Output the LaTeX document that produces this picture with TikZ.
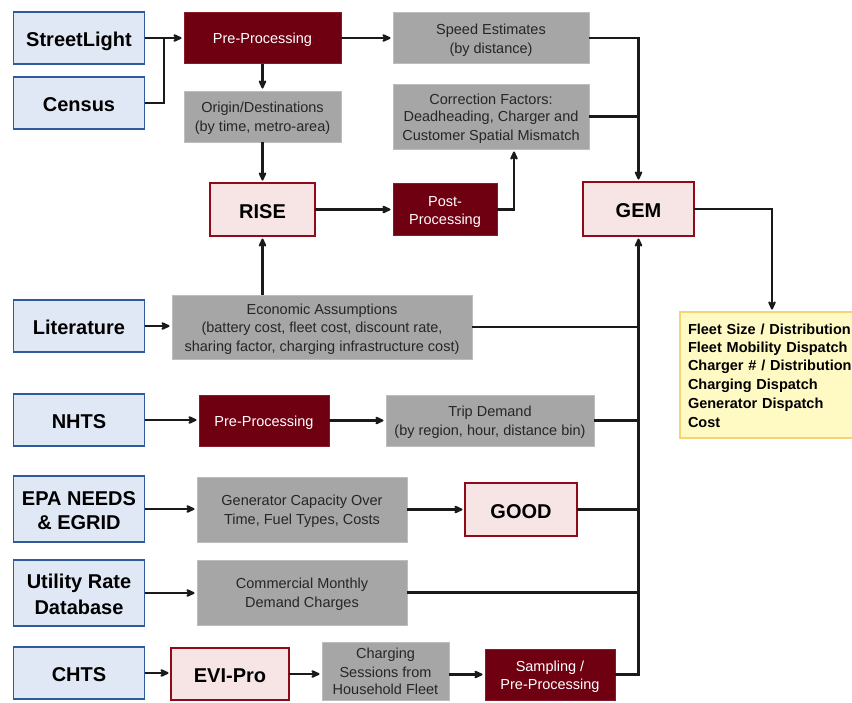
\documentclass[tikz,border=0pt]{standalone}
\usepackage{fontspec}
\setmainfont{Liberation Sans}
\usetikzlibrary{arrows.meta}
\definecolor{srcfill}{HTML}{E1E8F5}
\definecolor{srcdraw}{HTML}{2F5B9A}
\definecolor{procfill}{HTML}{6F0012}
\definecolor{procdraw}{HTML}{8A1A28}
\definecolor{modelfill}{HTML}{F7E4E5}
\definecolor{modeldraw}{HTML}{8E0B17}
\definecolor{datafill}{HTML}{A6A6A6}
\definecolor{datadraw}{HTML}{BDBDBD}
\definecolor{outfill}{HTML}{FFF9C4}
\definecolor{outdraw}{HTML}{F2D675}
\definecolor{linec}{HTML}{1A1A1A}
\newcommand\sst{\rule[-3pt]{0pt}{17.6pt}}
\newcommand\bst{\rule[-3.5pt]{0pt}{24pt}}
\newcommand\yst{\rule[-3pt]{0pt}{17.8pt}}
\tikzset{
  big/.style={font=\bfseries\fontsize{20}{24}\selectfont},
  small/.style={font=\fontsize{14.5}{17.6}\selectfont},
  box/.style={inner sep=0pt, outer sep=0pt, align=center},
  src/.style={box, big, fill=srcfill, draw=srcdraw, line width=1.3pt, minimum width=131pt, minimum height=52pt},
  proc/.style={box, small, fill=procfill, draw=procdraw, line width=0.8pt, text=white},
  model/.style={box, big, fill=modelfill, draw=modeldraw, line width=2.2pt},
  datab/.style={box, small, fill=datafill, draw=datadraw, line width=0.8pt, text=black!85},
  ln/.style={draw=linec, line width=2.5pt},
  arr/.style={ln, shorten >=2.5pt, -{Stealth[length=11pt,width=10pt,inset=3.5pt,round]}},
}
\begin{document}
\begin{tikzpicture}[x=1pt,y=-1pt]
\useasboundingbox (0,0) rectangle (852,702);
% sources
\node[src] (sl)   at (79,38)  {\bst StreetLight};
\node[src] (cen)  at (79,103) {\bst Census};
\node[src] (lit)  at (79,326) {\bst Literature};
\node[src] (nhts) at (79,420) {\bst NHTS};
\node[src, minimum height=66pt] (epa)  at (79,509) {\bst EPA NEEDS\\\bst\& EGRID};
\node[src, minimum height=66pt] (util) at (79,593) {\bst Utility Rate\\\bst Database};
\node[src] (chts) at (79,673) {\bst CHTS};
% top part
\node[proc, minimum width=157pt, minimum height=51pt] (pp1) at (262.5,38) {\sst Pre-Processing};
\node[datab, minimum width=157pt, minimum height=51pt] (od) at (262.5,116.5) {\sst Origin/Destinations\\\sst(by time, metro-area)};
\node[model, minimum width=105pt, minimum height=53pt] (rise) at (262.5,209.5) {\bst RISE};
\node[datab, minimum width=196pt, minimum height=51pt] (speed) at (491,38) {\sst Speed Estimates\\\sst(by distance)};
\node[datab, minimum width=196pt, minimum height=65pt] (corr) at (491,116.5) {\sst Correction Factors:\\\sst Deadheading, Charger and\\\sst Customer Spatial Mismatch};
\node[proc, minimum width=104pt, minimum height=52pt] (post) at (445,209.5) {\sst Post-\\\sst Processing};
\node[model, minimum width=111pt, minimum height=54pt] (gem) at (638.5,209) {\bst GEM};
\node[box, fill=outfill, draw=outdraw, line width=1.2pt, minimum width=184pt, minimum height=126pt,
      text width=168pt, align=left, inner xsep=8pt, font=\bfseries\fontsize{14.5}{17.8}\selectfont] (out) at (772,375)
  {\yst Fleet Size / Distribution\\\yst Fleet Mobility Dispatch\\\yst Charger \# / Distribution\\\yst Charging Dispatch\\\yst Generator Dispatch\\\yst Cost};
% middle
\node[datab, minimum width=300pt, minimum height=64pt] (econ) at (322,327) {\sst Economic Assumptions\\\sst(battery cost, fleet cost, discount rate,\\\sst sharing factor, charging infrastructure cost)};
\node[proc, minimum width=130pt, minimum height=51pt] (pp2) at (264,420.5) {\sst Pre-Processing};
\node[datab, minimum width=208pt, minimum height=51pt] (trip) at (490,420.5) {\sst Trip Demand\\\sst(by region, hour, distance bin)};
\node[datab, minimum width=210pt, minimum height=65pt] (gen) at (302,509.5) {\sst Generator Capacity Over\\\sst Time, Fuel Types, Costs};
\node[model, minimum width=112pt, minimum height=53pt] (good) at (521,509.5) {\bst GOOD};
\node[datab, minimum width=210pt, minimum height=65pt] (comm) at (302,592.5) {\sst Commercial Monthly\\\sst Demand Charges};
\node[model, minimum width=118pt, minimum height=52pt] (evi) at (230,674) {\bst EVI-Pro};
\node[datab, minimum width=127pt, minimum height=58pt] (sess) at (385.5,671) {\sst Charging\\\sst Sessions from\\\sst Household Fleet};
\node[proc, minimum width=130pt, minimum height=51pt] (samp) at (550,674.5) {\sst Sampling /\\\sst Pre-Processing};
% connectors
\coordinate (j1) at (164,38);
\draw[arr] (sl.east) -- (pp1.west);
\draw[ln] (cen.east) -| (j1);
\draw[arr] (pp1.south) -- (od.north);
\draw[arr] (od.south) -- (rise.north);
\draw[arr] (pp1.east) -- (speed.west);
\draw[arr] (rise.east) -- (rise.east -| post.west);
\draw[arr] (post.east) -| ([xshift=23pt]corr.south);
\draw[arr] (speed.east) -| (gem.north);
\draw[ln] (corr.east) -- (corr.east -| gem.north);
\draw[arr] (gem.east) -| (out.north);
\draw[arr] (lit.east) -- (lit.east -| econ.west);
\draw[arr] (rise.south |- econ.north) -- (rise.south);
\draw[ln] (econ.east) -- (econ.east -| gem.south);
\draw[arr] (nhts.east) -- (nhts.east -| pp2.west);
\draw[arr] (pp2.east) -- (trip.west);
\draw[ln] (trip.east) -- (trip.east -| gem.south);
\draw[arr] (epa.east) -- (epa.east -| gen.west);
\draw[arr] (gen.east) -- (good.west);
\draw[ln] (good.east) -- (good.east -| gem.south);
\draw[arr] (util.east) -- (util.east -| comm.west);
\draw[ln] (comm.east) -- (comm.east -| gem.south);
\draw[arr] (chts.east) -- (chts.east -| evi.west);
\draw[arr] (evi.east) -- (evi.east -| sess.west);
\draw[arr] (samp.west -| sess.east) -- (samp.west);
\draw[arr] (samp.east) -| (gem.south);
\end{tikzpicture}
\end{document}
